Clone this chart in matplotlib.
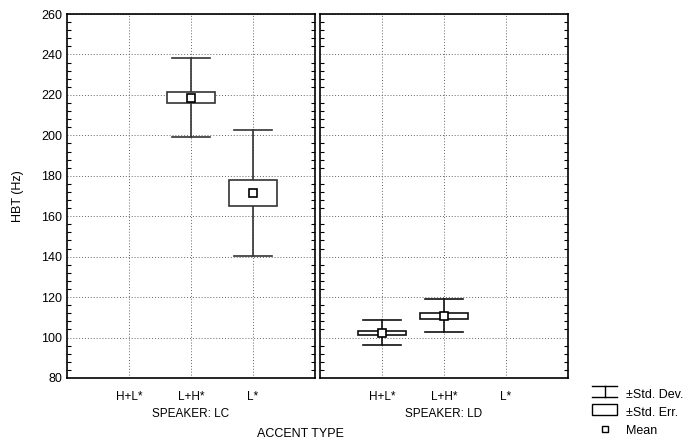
import numpy as np
import matplotlib.pyplot as plt
from matplotlib.ticker import MultipleLocator
from matplotlib.lines import Line2D
from matplotlib.patches import Rectangle
from matplotlib.legend_handler import HandlerBase

plt.rcParams['font.family'] = ['Liberation Sans', 'DejaVu Sans']

accents = ['H+L*', 'L+H*', 'L*']
speakers = ['LC', 'LD']

# mean, std. err. bounds, std. dev. bounds per speaker (None = no data)
means = {'LC': [None, 218.5, 171.5], 'LD': [102.5, 110.7, None]}
se_lo = {'LC': [None, 216.0, 165.0], 'LD': [101.4, 109.3, None]}
se_hi = {'LC': [None, 221.2, 178.0], 'LD': [103.2, 111.9, None]}
sd_lo = {'LC': [None, 199.0, 140.5], 'LD': [96.1, 102.6, None]}
sd_hi = {'LC': [None, 238.2, 202.5], 'LD': [108.7, 118.9, None]}

fig = plt.figure(figsize=(6.95, 4.45), dpi=100)
W, H = 695, 445
panels = [(67, 'LC'), (320, 'LD')]
colors = {'LC': '#333333', 'LD': '#111111'}

for i, (x0, sp) in enumerate(panels):
    ax = fig.add_axes([x0 / W, (H - 378) / H, 248 / W, 364 / H])
    ax.set_xlim(0, 4)
    ax.set_ylim(80, 260)
    ax.set_xticks([1, 2, 3])
    ax.set_xticklabels(accents, fontsize=8.5)
    ax.yaxis.set_major_locator(MultipleLocator(20))
    ax.yaxis.set_minor_locator(MultipleLocator(4))
    ax.tick_params(axis='y', which='both', direction='in', left=True, right=True,
                   labelsize=9, length=3, width=0.8)
    ax.tick_params(axis='y', which='major', length=0)
    ax.tick_params(axis='x', length=0, labelsize=8.5, pad=9)
    if i > 0:
        ax.set_yticklabels([])
    ax.grid(True, linestyle=(0, (1, 2)), color='#666666', linewidth=0.7)
    for s in ax.spines.values():
        s.set_linewidth(1.2)
    ax.set_xlabel('SPEAKER: ' + sp, fontsize=8.5, labelpad=4)
    c = colors[sp]
    for k in range(len(accents)):
        m = means[sp][k]
        if m is None:
            continue
        x = k + 1
        ax.plot([x, x], [sd_lo[sp][k], sd_hi[sp][k]], color=c, lw=1.2, zorder=3)
        ax.plot([x - 0.3, x + 0.3], [sd_lo[sp][k]] * 2, color=c, lw=1.2, zorder=3)
        ax.plot([x - 0.3, x + 0.3], [sd_hi[sp][k]] * 2, color=c, lw=1.2, zorder=3)
        ax.add_patch(Rectangle((x - 0.39, se_lo[sp][k]), 0.78, se_hi[sp][k] - se_lo[sp][k],
                               facecolor='white', edgecolor=c, lw=1.2, zorder=4))
        ax.plot([x], [m], marker='s', ms=6, mfc='white', mec='black', mew=1.2, zorder=5)
    if i == 0:
        ax.set_ylabel('HBT (Hz)', fontsize=9, labelpad=12)


class SDHandler(HandlerBase):
    def create_artists(self, legend, orig, xd, yd, w, h, fs, trans):
        cx = xd + w / 2
        a = Line2D([xd, xd + w], [yd + h, yd + h], color='black', lw=1, transform=trans)
        b = Line2D([xd, xd + w], [yd, yd], color='black', lw=1, transform=trans)
        c = Line2D([cx, cx], [yd, yd + h], color='black', lw=1, transform=trans)
        return [a, b, c]


class SEHandler(HandlerBase):
    def create_artists(self, legend, orig, xd, yd, w, h, fs, trans):
        r = Rectangle((xd, yd), w, h, facecolor='white', edgecolor='black', lw=1, transform=trans)
        return [r]


h1 = Line2D([], [])
h2 = Rectangle((0, 0), 1, 1)
h3 = Line2D([], [], marker='s', ls='none', ms=5, mfc='white', mec='black', mew=1)
fig.legend([h1, h2, h3], ['\u00b1Std. Dev.', '\u00b1Std. Err.', 'Mean'],
           handler_map={h1: SDHandler(), h2: SEHandler()},
           loc='lower left', bbox_to_anchor=(581 / W, 1 - 448 / H), frameon=False,
           fontsize=9, handlelength=2.0, handleheight=0.9, labelspacing=0.45, handletextpad=0.7)

fig.text(300 / W, 1 - 434 / H, 'ACCENT TYPE', fontsize=9, ha='center', va='center')

fig.savefig('out.png', dpi=100)
